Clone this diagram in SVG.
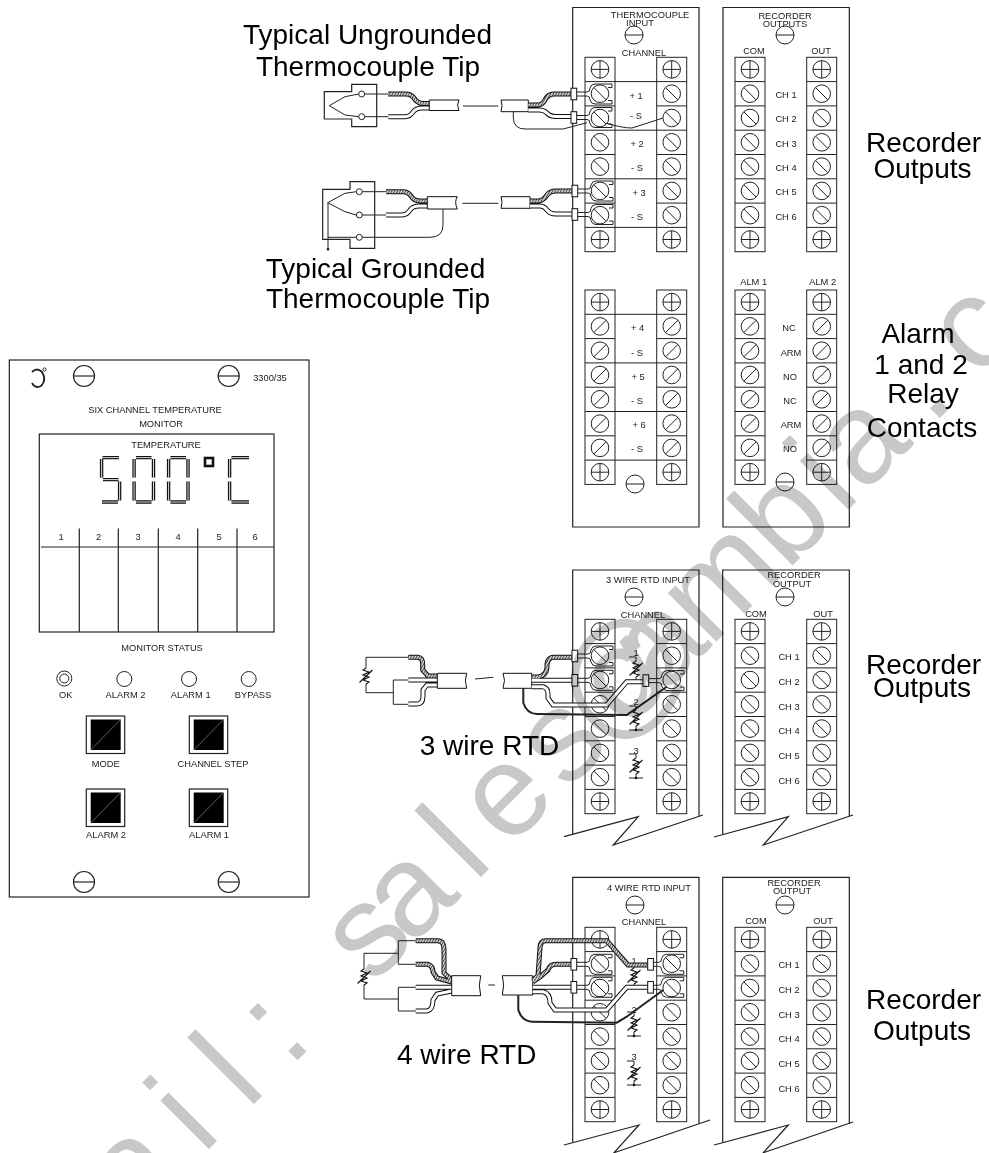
<svg xmlns="http://www.w3.org/2000/svg" xmlns:xlink="http://www.w3.org/1999/xlink" width="989" height="1153" viewBox="0 0 989 1153">
<style>
text{font-family:"Liberation Sans",Arial,sans-serif;fill:#1a1a1a}
.s{font-size:9.3px;text-anchor:middle}
.b{font-size:28px;text-anchor:middle;fill:#000}
.l,.l *{fill:none;stroke:#222;stroke-width:1}
.p{fill:none;stroke:#222;stroke-width:1.2}
.o{fill:none;stroke:#111;stroke-width:5}
.w{fill:none;stroke:#fff;stroke-width:3}
.h{fill:none;stroke:url(#hatch);stroke-width:3}
.g{fill:none;stroke:#222;stroke-width:1}
.z{fill:none;stroke:#111;stroke-width:1.1}
.k{fill:none;stroke:#222;stroke-width:1.8}
.j{fill:#fff;stroke:#111;stroke-width:1}
.seg{fill:none;stroke:#111;stroke-width:3.4}
.segi{fill:none;stroke:#ddd;stroke-width:1}
.wm{font-size:130px;fill:#c8c8c8;mix-blend-mode:multiply}
.btn{fill:#000}
</style>
<defs>
<pattern id="hatch" patternUnits="userSpaceOnUse" width="2.4" height="2.4" patternTransform="rotate(30)"><rect width="2.4" height="2.4" fill="#ddd"/><rect width="1" height="2.4" fill="#444"/></pattern>
<g id="plus" class="l"><circle r="8.8"/><path d="M-8.8,0H8.8M0,-8.8V8.8"/></g>
<g id="bk" class="l"><circle r="8.8"/><path d="M-6.2,-6.2L6.2,6.2"/></g>
<g id="fw" class="l"><circle r="8.8"/><path d="M-6.2,6.2L6.2,-6.2"/></g>
<g id="hs" class="l"><circle r="9"/><path d="M-9,0H9"/></g>
<g id="cells" class="l"><rect width="30" height="194.4"/><path d="M0,24.3H30M0,48.6H30M0,72.9H30M0,97.2H30M0,121.5H30M0,145.8H30M0,170.1H30"/></g>
<g id="stripB"><use xlink:href="#cells"/><use xlink:href="#plus" x="15" y="12.1"/><use xlink:href="#bk" x="15" y="36.4"/><use xlink:href="#bk" x="15" y="60.7"/><use xlink:href="#bk" x="15" y="85"/><use xlink:href="#bk" x="15" y="109.3"/><use xlink:href="#bk" x="15" y="133.6"/><use xlink:href="#bk" x="15" y="157.9"/><use xlink:href="#plus" x="15" y="182.2"/></g>
<g id="stripF"><use xlink:href="#cells"/><use xlink:href="#plus" x="15" y="12.1"/><use xlink:href="#fw" x="15" y="36.4"/><use xlink:href="#fw" x="15" y="60.7"/><use xlink:href="#fw" x="15" y="85"/><use xlink:href="#fw" x="15" y="109.3"/><use xlink:href="#fw" x="15" y="133.6"/><use xlink:href="#fw" x="15" y="157.9"/><use xlink:href="#plus" x="15" y="182.2"/></g>
<g id="lug"><path class="g" d="M-23,-2H-13Q-10,-2,-10,-6Q-9,-10,-5,-10H12V-6.5H8M-23,2H-13Q-10,2,-10,6Q-9,10,-5,10H12V6.5H8"/><rect class="j" x="-29" y="-5.8" width="5.7" height="11.6"/></g>
<g id="lug2"><path class="g" d="M-18,-2H-13Q-10,-2,-10,-6Q-9,-10,-5,-10H12V-6.5H8M-18,2H-13Q-10,2,-10,6Q-9,10,-5,10H12V6.5H8"/><rect class="j" x="-24" y="-5.8" width="5.7" height="11.6"/></g>
<path id="zig" class="z" d="M0,-8L-3,-6L3,-4L-3,-1L3,1L-3,4L3,6L0,8M-6.5,6.5L6.5,-6"/>
<g id="rtd"><path class="g" d="M-7,-12H0V-8M0,8V12M-7,12H7"/><use xlink:href="#zig"/><circle r="1.3" cy="12" fill="#111"/></g>
<g id="rtdt"><path class="g" d="M-7,-12H0V-8M0,8V12"/><use xlink:href="#zig"/></g>
<path id="d5" d="M2.5,1.6H19M1.6,3V21.5M3,23.6H18.5M19.6,25.5V44.5M2,46H18"/>
<path id="d0" d="M3.5,1.6H19M1.6,3V21.5M1.6,25.5V44.5M21,3V21.5M21,25.5V44.5M3.5,46H19"/>
<path id="dc" d="M3.5,1.6H21M1.6,3V21.5M1.6,25.5V44.5M3.5,46H21"/>
<g id="btn"><rect class="p" width="38.4" height="37.5"/><rect class="btn" x="4.4" y="3.5" width="30" height="30.5"/><path d="M4.4,34L34.4,3.5" stroke="#888" stroke-width=".7" fill="none"/></g>
</defs>
<rect width="989" height="1153" fill="#fff"/>

<g id="monitor-panel">
<rect class="p" x="9.3" y="360" width="299.7" height="537"/>
<path class="k" d="M32,372Q37,367,42,372Q47,380,41,386Q35,389,32,383"/><circle class="g" cx="44.5" cy="369.5" r="1.6"/>
<use xlink:href="#hs" transform="translate(84,376) scale(1.17)"/><use xlink:href="#hs" transform="translate(228.7,376) scale(1.17)"/>
<use xlink:href="#hs" transform="translate(84,882) scale(1.17)"/><use xlink:href="#hs" transform="translate(228.7,882) scale(1.17)"/>
<text class="s" x="270" y="381">3300/35</text>
<text class="s" x="155" y="413">SIX CHANNEL TEMPERATURE</text>
<text class="s" x="161" y="427">MONITOR</text>
<rect class="p" x="39.3" y="434" width="234.7" height="198"/>
<text class="s" x="166" y="447.5">TEMPERATURE</text>
<use xlink:href="#d5" class="seg" x="100" y="456"/><use xlink:href="#d5" class="segi" x="100" y="456"/>
<use xlink:href="#d0" class="seg" x="132.5" y="456"/><use xlink:href="#d0" class="segi" x="132.5" y="456"/>
<use xlink:href="#d0" class="seg" x="167" y="456"/><use xlink:href="#d0" class="segi" x="167" y="456"/>
<rect x="205" y="458" width="8" height="8" fill="none" stroke="#111" stroke-width="2.6"/>
<use xlink:href="#dc" class="seg" x="228" y="456"/><use xlink:href="#dc" class="segi" x="228" y="456"/>
<path class="p" d="M41,547H274M79.3,528.5V632M118.3,528.5V632M158.3,528.5V632M197.7,528.5V632M237,528.5V632"/>
<text class="s" x="61" y="540">1</text><text class="s" x="98.5" y="540">2</text><text class="s" x="138" y="540">3</text><text class="s" x="178" y="540">4</text><text class="s" x="219" y="540">5</text><text class="s" x="255" y="540">6</text>
<text class="s" x="162" y="651">MONITOR STATUS</text>
<g class="g"><circle cx="64.3" cy="678.5" r="7.5"/><circle cx="64.3" cy="678.5" r="4.5"/><circle cx="124.3" cy="679" r="7.5"/><circle cx="189" cy="679" r="7.5"/><circle cx="248.7" cy="679" r="7.5"/></g>
<text class="s" x="65.7" y="698">OK</text><text class="s" x="125.5" y="698">ALARM 2</text><text class="s" x="190.7" y="698">ALARM 1</text><text class="s" x="253" y="698">BYPASS</text>
<use xlink:href="#btn" x="86.3" y="716"/><use xlink:href="#btn" x="189.3" y="716"/><use xlink:href="#btn" x="86.3" y="789"/><use xlink:href="#btn" x="189.3" y="789"/>
<text class="s" x="105.7" y="766.5">MODE</text><text class="s" x="213" y="766.5">CHANNEL STEP</text><text class="s" x="106" y="837.5">ALARM 2</text><text class="s" x="209" y="837.5">ALARM 1</text>
</g>

<g id="thermocouple-input">
<path class="p" d="M572.7,7.5H699V527H572.7Z"/>
<text class="s" x="650" y="18">THERMOCOUPLE</text><text class="s" x="640" y="26">INPUT</text>
<use xlink:href="#hs" x="634" y="35"/>
<text class="s" x="644" y="55.5">CHANNEL</text>
<use xlink:href="#stripB" x="585" y="57.3"/><use xlink:href="#stripB" x="656.7" y="57.3"/>
<path class="g" d="M615,81.6H657M615,130.2H657M615,178.8H657M615,227.4H657"/>
<text class="s" x="636" y="99">+ 1</text><text class="s" x="636" y="118.5">- S</text><text class="s" x="637" y="147">+ 2</text><text class="s" x="637" y="170.5">- S</text><text class="s" x="639" y="196">+ 3</text><text class="s" x="637" y="220">- S</text>
<use xlink:href="#stripF" x="585" y="290"/><use xlink:href="#stripF" x="656.7" y="290"/>
<path class="g" d="M615,314.3H657M615,362.9H657M615,411.5H657M615,460.1H657"/>
<text class="s" x="637.7" y="331">+ 4</text><text class="s" x="637" y="356">- S</text><text class="s" x="638" y="380">+ 5</text><text class="s" x="637" y="404">- S</text><text class="s" x="639" y="428">+ 6</text><text class="s" x="637" y="452">- S</text>
<use xlink:href="#hs" x="635" y="484"/>
</g>

<g id="recorder-outputs">
<path class="p" d="M723,7.5H849.3V527H723Z"/>
<text class="s" x="785" y="19">RECORDER</text><text class="s" x="785" y="27">OUTPUTS</text>
<use xlink:href="#hs" x="785" y="35"/>
<text class="s" x="754" y="54">COM</text><text class="s" x="821" y="54">OUT</text>
<use xlink:href="#stripB" x="735" y="57.3"/><use xlink:href="#stripB" x="806.7" y="57.3"/>
<text class="s" x="786" y="98">CH 1</text><text class="s" x="786" y="122">CH 2</text><text class="s" x="786" y="146.5">CH 3</text><text class="s" x="786" y="171">CH 4</text><text class="s" x="786" y="195">CH 5</text><text class="s" x="786" y="220">CH 6</text>
<text class="s" x="753.7" y="285">ALM 1</text><text class="s" x="822.7" y="285">ALM 2</text>
<use xlink:href="#stripF" x="735" y="290"/><use xlink:href="#stripF" x="806.7" y="290"/>
<text class="s" x="789" y="331">NC</text><text class="s" x="791" y="356">ARM</text><text class="s" x="790" y="380">NO</text><text class="s" x="790" y="404">NC</text><text class="s" x="791" y="428">ARM</text><text class="s" x="790" y="452">NO</text>
<use xlink:href="#hs" x="785" y="482"/>
</g>

<g id="rtd3-input">
<path class="p" d="M572.7,834V570H699V816M564,836.7L638.3,816.7L613.3,845L703,815"/>
<text class="s" x="648" y="583">3 WIRE RTD INPUT</text>
<use xlink:href="#hs" x="634" y="597"/>
<text class="s" x="643" y="618">CHANNEL</text>
<use xlink:href="#stripB" x="585" y="619.3"/><use xlink:href="#stripB" x="656.7" y="619.3"/>
<text class="s" x="636" y="655.5">1</text><use xlink:href="#rtdt" x="636" y="669"/>
<text class="s" x="636" y="704.5">2</text><use xlink:href="#rtd" x="636" y="718"/>
<text class="s" x="636" y="754">3</text><use xlink:href="#rtd" x="636" y="766"/>
</g>

<g id="rtd3-recorder">
<path class="p" d="M722.7,834V570H849.3V816M714,837L788.3,816.7L763.3,845L853,815"/>
<text class="s" x="794" y="578">RECORDER</text><text class="s" x="792" y="586.5">OUTPUT</text>
<use xlink:href="#hs" x="785" y="597"/>
<text class="s" x="756" y="616.5">COM</text><text class="s" x="823" y="616.5">OUT</text>
<use xlink:href="#stripB" x="735" y="619.3"/><use xlink:href="#stripB" x="806.7" y="619.3"/>
<text class="s" x="789" y="660">CH 1</text><text class="s" x="789" y="685">CH 2</text><text class="s" x="789" y="710">CH 3</text><text class="s" x="789" y="734">CH 4</text><text class="s" x="789" y="759">CH 5</text><text class="s" x="789" y="784">CH 6</text>
</g>

<g id="rtd4-input">
<path class="p" d="M572.7,1142V877.3H699V1124M564,1145L639,1125L614,1152.7L710,1120"/>
<text class="s" x="649" y="891">4 WIRE RTD INPUT</text>
<use xlink:href="#hs" x="635" y="905"/>
<text class="s" x="644" y="925">CHANNEL</text>
<use xlink:href="#stripB" x="585" y="927.3"/><use xlink:href="#stripB" x="656.7" y="927.3"/>
<text class="s" x="634" y="963.5">1</text><use xlink:href="#rtdt" x="634" y="976"/>
<text class="s" x="634" y="1012.5">2</text><use xlink:href="#rtd" x="634" y="1024"/>
<text class="s" x="634" y="1059.5">3</text><use xlink:href="#rtd" x="634" y="1073"/>
</g>

<g id="rtd4-recorder">
<path class="p" d="M722.7,1142V877.3H849.3V1124M714,1145L788.3,1125L763.3,1152.7L853,1122"/>
<text class="s" x="794" y="885.5">RECORDER</text><text class="s" x="792" y="894">OUTPUT</text>
<use xlink:href="#hs" x="785" y="905"/>
<text class="s" x="756" y="924">COM</text><text class="s" x="823" y="924">OUT</text>
<use xlink:href="#stripB" x="735" y="927.3"/><use xlink:href="#stripB" x="806.7" y="927.3"/>
<text class="s" x="789" y="968">CH 1</text><text class="s" x="789" y="993">CH 2</text><text class="s" x="789" y="1018">CH 3</text><text class="s" x="789" y="1042">CH 4</text><text class="s" x="789" y="1067">CH 5</text><text class="s" x="789" y="1092">CH 6</text>
</g>

<g id="tip-ungrounded">
<path class="p" d="M324.3,91.7H351.7V84.3H376.7V126.7H351.7V119H324.3Z"/>
<path class="g" d="M329.3,105.7L345,96.7L358.7,94M329.3,105.7L345,115L358.7,116.7M364.7,94H388.3M364.7,116.7H388.3"/>
<circle class="g" cx="361.7" cy="94" r="3"/><circle class="g" cx="361.7" cy="116.7" r="3"/>
</g>
<g id="tip-grounded">
<path class="p" d="M322.7,189.3H350V181.7H374.7V248.3H350V239.3H322.7Z"/>
<path class="g" d="M327.7,202.7L345,193.3L356.3,191.7M327.7,202.7L345,211.7L356.3,215M362.3,191.7H386M362.3,215H386M328,202.7V249.3M328,237.3H356.3M362.3,237.3H430Q443,237.3,443,225V208"/>
<circle class="g" cx="359.3" cy="191.7" r="3"/><circle class="g" cx="359.3" cy="215" r="3"/><circle class="g" cx="359.3" cy="237.3" r="3"/><circle cx="328" cy="249.3" r="1.2" fill="#111"/>
</g>
<g id="rtd3-element"><path class="g" d="M408.3,657.3H366V668M366,684V692.7H393.3M408.3,680H393.3V704.3H408.3"/><use xlink:href="#zig" x="366" y="676"/></g>
<g id="rtd4-element"><path class="g" d="M415.7,940.7H398.3V964.3H415.7M398.3,953.3H364V969M364,985V999H398.3M415.7,987.3H398.3V1011H415.7"/><use xlink:href="#zig" x="364" y="977"/></g>

<g id="connectors">
<path class="o" d="M388.3,94H406Q411,94,414,98Q417,103.5,424,103.5H429M388.3,116.7H405Q410,116.7,413,112Q416,108,422,108H429"/>
<path class="h" d="M388.3,94H406Q411,94,414,98Q417,103.5,424,103.5H429"/>
<path class="w" d="M388.3,116.7H405Q410,116.7,413,112Q416,108,422,108H429"/>
<path class="j" d="M429.3,100H459Q456,105,459,110.5H429.3Z"/>
<path class="g" d="M463,106H498.3"/>
<path class="j" d="M501,100H528.3V111.7H501Q503,105,501,100Z"/>
<path class="o" d="M528.3,105H538Q542,105,545,100Q548,94,554,94H571M528.3,110H539Q544,110,547,113Q549,116,555,116.5H571"/>
<path class="h" d="M528.3,105H538Q542,105,545,100Q548,94,554,94H571"/>
<path class="w" d="M528.3,110H539Q544,110,547,113Q549,116,555,116.5H571"/>
<use xlink:href="#lug" x="600" y="94"/><use xlink:href="#lug" x="600" y="117.5"/>
<path class="g" d="M513.3,111.7V118Q514,129,525,129H563L587,122.7M606.7,123.3Q622,128,632,128L663,118"/>
<path class="o" d="M386,191.7H403Q408,191.7,411,196Q414,201,420,201H427.3M386,215H402Q407,215,410,210Q413,206,419,206H427.3"/>
<path class="h" d="M386,191.7H403Q408,191.7,411,196Q414,201,420,201H427.3"/>
<path class="w" d="M386,215H402Q407,215,410,210Q413,206,419,206H427.3"/>
<path class="j" d="M427.3,196.7H457.3Q454,202,457.3,209H427.3Z"/>
<path class="g" d="M462.3,203.3H498.3"/>
<path class="j" d="M501,196.7H530V208.3H501Q503,202,501,196.7Z"/>
<path class="o" d="M530,201H539Q544,200,547,195Q550,191,556,191H573M530,206H540Q544,206,547,210Q550,214,556,214H573"/>
<path class="h" d="M530,201H539Q544,200,547,195Q550,191,556,191H573"/>
<path class="w" d="M530,206H540Q544,206,547,210Q550,214,556,214H573"/>
<use xlink:href="#lug" x="601" y="191"/><use xlink:href="#lug" x="601" y="214.5"/>
<path class="o" d="M408.3,657.3H418Q422.7,658,422.7,664V670L428,676H437.3M408.3,680H437.3M408.3,704H417Q423,704,423,696V690L427,685H437.3"/>
<path class="h" d="M408.3,657.3H418Q422.7,658,422.7,664V670L428,676H437.3"/>
<path class="w" d="M408.3,680H437.3M408.3,704H417Q423,704,423,696V690L427,685H437.3"/>
<path class="j" d="M437.3,673.3H466.7Q464,680,466.7,688.3H437.3Z"/>
<path class="g" d="M475,679L493.3,677.3"/>
<path class="j" d="M503,673.3H531.7V688.3H503Q506,680,503,673.3Z"/>
<path class="o" d="M531.7,677H538Q546,676,547,668V664Q548,657.3,554,657.3H573M531.7,680.3H573M531.7,686.7H543Q548,688,548,694V698L553,705H606.7L626.7,681.7H644"/>
<path class="h" d="M531.7,677H538Q546,676,547,668V664Q548,657.3,554,657.3H573"/>
<path class="w" d="M531.7,680.3H573M531.7,686.7H543Q548,688,548,694V698L553,705H606.7L626.7,681.7H644"/>
<use xlink:href="#lug" x="601" y="656"/><use xlink:href="#lug" x="601" y="680.3"/><use xlink:href="#lug" x="672" y="680.6"/>
<path d="M523.3,688V703Q527,714,537,714L626.7,715L666.7,686.7" fill="none" stroke="#222" stroke-width="2"/>
<path class="o" d="M415.7,940.7H438Q444,941,444,949V973L451.7,980M415.7,964.3H428Q433,966,433,972L437,978L451.7,982M415.7,987.3H451.7M415.7,1011H427Q433,1010,433,1000L437,994L451.7,991"/>
<path class="h" d="M415.7,940.7H438Q444,941,444,949V973L451.7,980M415.7,964.3H428Q433,966,433,972L437,978L451.7,982"/>
<path class="w" d="M415.7,987.3H451.7M415.7,1011H427Q433,1010,433,1000L437,994L451.7,991"/>
<path class="j" d="M451.7,975.7H480.7Q478,985,480.7,995.7H451.7Z"/>
<path class="g" d="M488.3,985H495"/>
<path class="j" d="M502.3,975.7H532.7V995H502.3Q505,985,502.3,975.7Z"/>
<path class="o" d="M532.7,980L538,976L540,948Q540,940.7,546,940.7H606.7L628,965H647.7M532.7,982L540,977L548,970Q550,964.3,556,964.3H572M532.7,987.3H572M532.7,991.7H543Q550,993,550,1003L555,1010H606.7L626.7,987.3H647.7"/>
<path class="h" d="M532.7,980L538,976L540,948Q540,940.7,546,940.7H606.7L628,965H647.7M532.7,982L540,977L548,970Q550,964.3,556,964.3H572"/>
<path class="w" d="M532.7,987.3H572M532.7,991.7H543Q550,993,550,1003L555,1010H606.7L626.7,987.3H647.7"/>
<use xlink:href="#lug" x="600" y="964.3"/><use xlink:href="#lug" x="600" y="987.3"/><use xlink:href="#lug2" x="671.7" y="964.3"/><use xlink:href="#lug2" x="671.7" y="987.3"/>
<path d="M518.3,995V1010Q522,1021.7,533,1021.7L616.7,1022.7L626.7,1016.7L663.3,990" fill="none" stroke="#222" stroke-width="2"/>
</g>

<g id="labels">
<text class="b" x="367.5" y="44">Typical Ungrounded</text>
<text class="b" x="368" y="76">Thermocouple Tip</text>
<text class="b" x="375.5" y="278">Typical Grounded</text>
<text class="b" x="378" y="308">Thermocouple Tip</text>
<text class="b" x="923.5" y="152">Recorder</text><text class="b" x="922.5" y="178">Outputs</text>
<text class="b" x="918" y="343">Alarm</text><text class="b" x="921" y="374">1 and 2</text><text class="b" x="923" y="403">Relay</text><text class="b" x="922" y="437">Contacts</text>
<text class="b" x="923.5" y="674">Recorder</text><text class="b" x="922" y="697">Outputs</text>
<text class="b" x="923.5" y="1009">Recorder</text><text class="b" x="922" y="1040">Outputs</text>
<text class="b" x="489.5" y="755">3 wire RTD</text>
<text class="b" x="466.7" y="1064">4 wire RTD</text>
</g>

<text id="watermark" class="wm" transform="translate(213,1145) rotate(-45)" x="-111 -14.4 49.2 107.9 225 280 370 418 500 555 585 635 703 811 890 920 1016 1081">ail:sales@cambia.c</text>
</svg>
